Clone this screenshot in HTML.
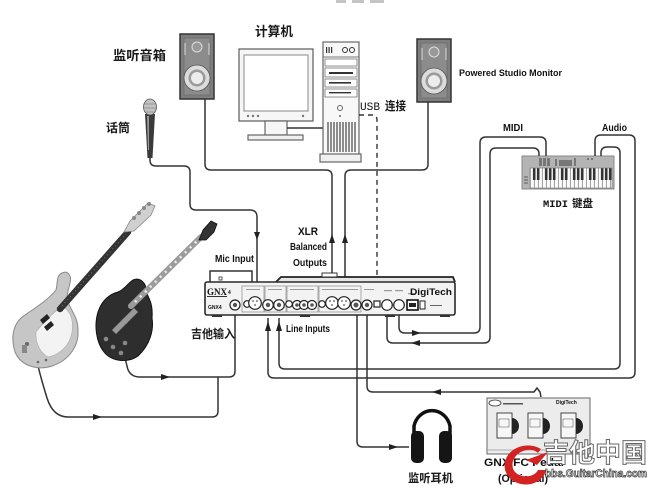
<!DOCTYPE html>
<html><head><meta charset="utf-8">
<style>
html,body{margin:0;padding:0;background:#fff;}
svg{display:block;}
.cn{font-family:"Liberation Sans","Noto Sans CJK SC","WenQuanYi Zen Hei",sans-serif;fill:#1a1a1a;font-weight:bold;}
.en{font-family:"Liberation Sans",sans-serif;font-weight:bold;fill:#111;}
.w{fill:none;stroke:#333;stroke-width:1.5;}
</style></head>
<body>
<svg width="654" height="488" viewBox="0 0 654 488" xmlns="http://www.w3.org/2000/svg">
<defs>
<pattern id="kb" x="530" y="168" width="28" height="21" patternUnits="userSpaceOnUse">
<rect width="28" height="21" fill="#fafafa"/>
<g stroke="#777" stroke-width="0.7"><line x1="0.3" y1="0" x2="0.3" y2="21"/><line x1="4.3" y1="0" x2="4.3" y2="21"/><line x1="8.3" y1="0" x2="8.3" y2="21"/><line x1="12.3" y1="0" x2="12.3" y2="21"/><line x1="16.3" y1="0" x2="16.3" y2="21"/><line x1="20.3" y1="0" x2="20.3" y2="21"/><line x1="24.3" y1="0" x2="24.3" y2="21"/></g>
<g fill="#333"><rect x="2.9" y="0" width="2.6" height="12"/><rect x="6.9" y="0" width="2.6" height="12"/><rect x="14.9" y="0" width="2.6" height="12"/><rect x="18.9" y="0" width="2.6" height="12"/><rect x="22.9" y="0" width="2.6" height="12"/></g>
</pattern>
</defs>

<!-- cut off title marks -->
<g fill="#c4c4c4"><rect x="336" y="0" width="10" height="3"/><rect x="352" y="0" width="12" height="3"/><rect x="370" y="0" width="14" height="3"/></g>

<!-- ===== Left speaker ===== -->
<rect x="180" y="34" width="34" height="65" fill="#7e7e7e" stroke="#333" stroke-width="1.5"/>
<rect x="184" y="38" width="26" height="57" fill="#8c8c8c" stroke="#666" stroke-width="0.6"/>
<line x1="185" y1="43" x2="185" y2="55" stroke="#ddd" stroke-width="1"/>
<line x1="209" y1="43" x2="209" y2="55" stroke="#ddd" stroke-width="1"/>
<circle cx="197" cy="47" r="5" fill="#999" stroke="#ddd" stroke-width="1"/>
<circle cx="197" cy="78" r="13" fill="#dcdcdc" stroke="#555" stroke-width="0.8"/>
<circle cx="197" cy="78" r="8.5" fill="#9a9a9a"/>
<circle cx="197" cy="78" r="6" fill="#ececec"/>

<!-- ===== Right speaker ===== -->
<rect x="417" y="39" width="34" height="63" fill="#7e7e7e" stroke="#333" stroke-width="1.5"/>
<rect x="421" y="43" width="26" height="55" fill="#8c8c8c" stroke="#666" stroke-width="0.6"/>
<line x1="422" y1="48" x2="422" y2="60" stroke="#ddd" stroke-width="1"/>
<line x1="446" y1="48" x2="446" y2="60" stroke="#ddd" stroke-width="1"/>
<circle cx="434" cy="52" r="5" fill="#999" stroke="#ddd" stroke-width="1"/>
<circle cx="434" cy="81" r="13" fill="#dcdcdc" stroke="#555" stroke-width="0.8"/>
<circle cx="434" cy="81" r="8.5" fill="#9a9a9a"/>
<circle cx="434" cy="81" r="6" fill="#ececec"/>

<!-- ===== Monitor ===== -->
<rect x="239" y="49" width="74" height="72" fill="#f6f6f6" stroke="#666" stroke-width="1.3"/>
<rect x="244" y="55" width="64" height="56" fill="#fff" stroke="#888" stroke-width="1"/>
<g fill="#777"><circle cx="248" cy="116" r="1.2"/><circle cx="253" cy="116" r="1.2"/><circle cx="258" cy="116" r="1.2"/><circle cx="303" cy="116" r="1.2"/></g>
<rect x="265" y="121" width="22" height="14" fill="#f6f6f6" stroke="#666" stroke-width="1.2"/>
<rect x="248" y="135" width="55" height="5" fill="#f0f0f0" stroke="#666" stroke-width="1.2"/>
<line x1="287" y1="128" x2="323" y2="128" stroke="#333" stroke-width="1.5"/>

<!-- ===== Tower ===== -->
<rect x="323" y="42" width="36" height="113" fill="#f8f8f8" stroke="#666" stroke-width="1.2"/>
<rect x="320" y="154" width="41" height="8" fill="#f0f0f0" stroke="#666" stroke-width="1.2"/>
<line x1="323" y1="57" x2="359" y2="57" stroke="#777"/>
<g fill="#333"><rect x="326" y="47" width="1.2" height="6"/><rect x="328.5" y="47" width="1.2" height="6"/><rect x="331" y="47" width="1.2" height="6"/></g>
<circle cx="345" cy="50" r="2.5" fill="none" stroke="#333"/><circle cx="352" cy="50" r="2.5" fill="none" stroke="#333"/>
<rect x="325" y="59" width="32" height="7" fill="#fff" stroke="#777" stroke-width="0.8"/>
<rect x="325" y="68" width="32" height="9" fill="#fff" stroke="#777" stroke-width="0.8"/>
<rect x="329" y="72" width="24" height="2" fill="#333"/>
<rect x="325" y="79" width="32" height="8" fill="#fff" stroke="#777" stroke-width="0.8"/>
<rect x="329" y="82" width="22" height="1.6" fill="#333"/>
<rect x="325" y="89" width="32" height="8" fill="#fff" stroke="#777" stroke-width="0.8"/>
<rect x="329" y="92" width="22" height="1.4" fill="#333"/>
<circle cx="340" cy="108" r="2.5" fill="none" stroke="#666"/>
<circle cx="340" cy="116" r="1" fill="#666"/>
<g stroke="#333" stroke-width="1.1">
<line x1="328" y1="122" x2="328" y2="152"/><line x1="331" y1="122" x2="331" y2="152"/><line x1="334" y1="122" x2="334" y2="152"/><line x1="337" y1="122" x2="337" y2="152"/><line x1="340" y1="122" x2="340" y2="152"/><line x1="343" y1="122" x2="343" y2="152"/><line x1="346" y1="122" x2="346" y2="152"/><line x1="349" y1="122" x2="349" y2="152"/><line x1="352" y1="122" x2="352" y2="152"/><line x1="355" y1="122" x2="355" y2="152"/>
</g>

<!-- ===== Microphone ===== -->
<path d="M145,114 L155,114 L152.5,158 L147.5,158 Z" fill="#3a3a3a"/>
<path d="M147,116 L149,116 L149,150 L148,150 Z" fill="#999"/>
<ellipse cx="150" cy="107" rx="6.5" ry="8" fill="#c2c2c2" stroke="#555" stroke-width="0.8"/>
<g stroke="#777" stroke-width="0.6"><line x1="144" y1="104" x2="156" y2="104"/><line x1="144" y1="108" x2="156" y2="108"/><line x1="145" y1="112" x2="155" y2="112"/></g>

<!-- ===== Keyboard ===== -->
<rect x="522" y="156" width="92" height="33" fill="#b4b4b4" stroke="#888" stroke-width="1"/>
<rect x="530" y="168" width="82" height="20" fill="url(#kb)" stroke="#777" stroke-width="0.6"/>
<g fill="#777"><rect x="539" y="158" width="3" height="8"/><rect x="543" y="158" width="3" height="8"/><rect x="547" y="158" width="3" height="8"/><rect x="555" y="159" width="2" height="7"/><rect x="559" y="160" width="13" height="6"/><rect x="574" y="158" width="2" height="8"/><rect x="587" y="158" width="2" height="2"/><rect x="591" y="158" width="2" height="2"/></g>
<g fill="#888"><rect x="524" y="176" width="4" height="2"/><rect x="524" y="179" width="4" height="2"/><rect x="524" y="182" width="4" height="2"/></g>

<!-- ===== Wires ===== -->
<path class="w" d="M150,158 L150,160 Q150,166 156,166 L184,166 Q190,166 190,172 L190,204 Q190,210 196,210 L250,210 Q257,210 257,217 L257,292"/>
<path d="M254,232 L260,232 L257,240 Z" fill="#222"/>
<path class="w" d="M205,99 L205,164 Q205,170 211,170 L326,170 Q332,170 332,176 L332,300"/>
<path class="w" d="M428,102 L428,164 Q428,170 422,170 L351,170 Q345,170 345,176 L345,300"/>
<path d="M329,243 L335,243 L332,234 Z" fill="#222"/>
<path d="M342,243 L348,243 L345,234 Z" fill="#222"/>
<path d="M359,115 L372,115 Q377,115 377,120 L377,300" fill="none" stroke="#333" stroke-width="1.4" stroke-dasharray="5,4"/>
<path class="w" d="M399,313 L399,327 Q399,333 405,333 L474,333 Q480,333 480,327 L480,143 Q480,137 486,137 L540,137 Q546,137 546,143 L546,156"/>
<path class="w" d="M387,313 L387,337 Q387,343 393,343 L484,343 Q490,343 490,337 L490,154 Q490,148 496,148 L533,148 Q539,148 539,154 L539,156"/>
<path d="M412,330 L412,336 L421,333 Z" fill="#222"/>
<path d="M420,340 L420,346 L411,343 Z" fill="#222"/>
<path class="w" d="M268,318 L268,372 Q268,378 274,378 L629,378 Q635,378 635,372 L635,141 Q635,135 629,135 L601,135 Q595,135 595,141 L595,156"/>
<path class="w" d="M279,318 L279,363 Q279,369 285,369 L614,369 Q620,369 620,363 L620,153 Q620,147 614,147 L607,147 Q601,147 601,153 L601,156"/>
<path d="M265,331 L271,331 L268,321 Z" fill="#222"/>
<path d="M276,331 L282,331 L279,321 Z" fill="#222"/>
<path class="w" d="M357,313 L357,441 Q357,447 363,447 L409,447"/>
<path d="M389,444 L389,450 L398,447 Z" fill="#222"/>
<path class="w" d="M367,313 L367,386 Q367,392 373,392 L534,392 L537,388 L540,392 L541,397"/>
<path d="M441,389 L441,395 L432,392 Z" fill="#222"/>
<path class="w" d="M235,313 L235,371 Q235,377 229,377 L140,377 Q129,377 127,366 L125,358"/>
<path d="M161,374 L161,380 L170,377 Z" fill="#222"/>
<path class="w" d="M38,366 Q42,382 47,398 Q53,417 68,417 L212,417 Q218,417 218,411 L218,377"/>
<path d="M93,414 L93,420 L102,417 Z" fill="#222"/>

<!-- ===== GNX4 unit ===== -->
<rect x="210" y="271" width="42" height="12" fill="#fff" stroke="#333" stroke-width="1.5"/>
<rect x="219" y="277" width="3" height="3" fill="none" stroke="#333" stroke-width="0.8"/>
<path d="M276,282 L281,277 L453,277 L455,282" fill="#e6e6e6" stroke="#222" stroke-width="1.8"/>
<rect x="322" y="273" width="15" height="4" fill="#fff" stroke="#333" stroke-width="1"/>
<rect x="205" y="282" width="250" height="33" rx="2" fill="#f3f3f3" stroke="#2a2a2a" stroke-width="1.6"/>
<g fill="#333"><rect x="212" y="315" width="10" height="2"/><rect x="300" y="315" width="10" height="2"/><rect x="385" y="315" width="10" height="2"/><rect x="440" y="315" width="10" height="2"/></g>
<g fill="none" stroke="#888" stroke-width="0.7">
<rect x="242" y="286" width="22" height="26"/><rect x="265" y="286" width="21" height="26"/><rect x="287" y="286" width="31" height="26"/><rect x="319" y="286" width="42" height="26"/>
</g>
<g fill="#999"><rect x="246" y="289" width="14" height="1"/><rect x="268" y="289" width="14" height="1"/><rect x="290" y="289" width="24" height="1"/><rect x="322" y="289" width="36" height="1"/><rect x="364" y="289" width="10" height="1"/><rect x="384" y="290" width="8" height="1.2"/><rect x="395" y="290" width="8" height="1.2"/><rect x="408" y="293" width="8" height="1.2"/></g>
<text x="207" y="295" font-size="9" font-weight="bold" fill="#111" textLength="20" lengthAdjust="spacingAndGlyphs" style="font-family:'Liberation Serif',serif">GNX</text>
<rect x="207" y="296" width="20" height="1" fill="#333"/>
<text x="228" y="294" class="en" font-size="5">4</text>
<text x="208" y="309" class="en" font-size="5" fill="#333">GNX4</text>
<text x="410" y="295" class="en" font-size="9" textLength="42" lengthAdjust="spacingAndGlyphs">DigiTech</text>
<g fill="#fff" stroke="#222" stroke-width="1.2">
<circle cx="235" cy="305" r="5"/>
<circle cx="247" cy="304" r="3.3"/>
<circle cx="255" cy="303" r="6.3"/>
<circle cx="268" cy="305" r="5.3"/>
<circle cx="279" cy="305" r="5.3"/>
<circle cx="289" cy="304" r="3.3"/>
<circle cx="297" cy="305" r="4.5"/>
<circle cx="304" cy="305" r="4.5"/>
<circle cx="312" cy="305" r="4.5"/>
<circle cx="322" cy="304" r="3.3"/>
<circle cx="332" cy="303" r="6.3"/>
<circle cx="344" cy="303" r="6.3"/>
<circle cx="356" cy="305" r="5"/>
<circle cx="367" cy="305" r="5"/>
<circle cx="387" cy="305" r="5.3"/>
<circle cx="399" cy="305" r="5.3"/>
</g>
<g fill="#555"><circle cx="235" cy="305" r="2.2"/><circle cx="268" cy="305" r="2.2"/><circle cx="279" cy="305" r="2.2"/><circle cx="356" cy="305" r="2.5"/><circle cx="367" cy="305" r="2.2"/><circle cx="297" cy="305" r="1.8"/><circle cx="304" cy="305" r="1.8"/><circle cx="312" cy="305" r="1.8"/>
<circle cx="253" cy="301" r="0.9"/><circle cx="257" cy="301" r="0.9"/><circle cx="255" cy="305" r="0.9"/>
<circle cx="330" cy="301" r="0.9"/><circle cx="334" cy="301" r="0.9"/><circle cx="332" cy="305" r="0.9"/>
<circle cx="342" cy="301" r="0.9"/><circle cx="346" cy="301" r="0.9"/><circle cx="344" cy="305" r="0.9"/></g>
<rect x="374" y="301" width="6" height="6" fill="#fff" stroke="#222" stroke-width="1.2"/>
<rect x="407" y="300" width="11" height="10" fill="#fff" stroke="#111" stroke-width="1.6"/>
<rect x="409" y="303" width="7" height="4" fill="#222"/>
<rect x="420" y="301" width="5" height="8" fill="#fff" stroke="#222" stroke-width="1"/>
<rect x="430" y="305" width="12" height="1" fill="#666"/>

<!-- ===== Bass guitar ===== -->
<path d="M15,352 C10,335 14,322 25,315 C35,308 48,300 56,290 C58,282 56,276 62,273 C68,270 72,276 70,283 C68,292 66,296 68,302 C72,312 78,318 78,330 C79,345 70,360 52,366 C40,370 22,368 15,352 Z" fill="#c6c6c6" stroke="#8a8a8a" stroke-width="1"/>
<path d="M36,332 C44,322 53,313 62,306 C70,310 74,320 72,332 C70,345 60,355 48,357 C40,353 35,342 36,332 Z" fill="#f3f3f3" stroke="#aaa" stroke-width="0.6"/>
<line x1="60" y1="309" x2="128" y2="232" stroke="#333" stroke-width="6.5" stroke-linecap="round"/>
<line x1="62" y1="306" x2="126" y2="234" stroke="#777" stroke-width="1" stroke-dasharray="1,3"/>
<path d="M124,232 L130,221 L148,203 L155,206 L151,215 L134,231 Z" fill="#d0d0d0" stroke="#888" stroke-width="0.8"/>
<g fill="#888"><circle cx="139" cy="213" r="2"/><circle cx="144" cy="208" r="2"/><circle cx="149" cy="204" r="2"/><circle cx="134" cy="218" r="2"/></g>
<path d="M40,320 L47,314 L50,318 L43,324 Z" fill="#222"/>
<path d="M44,327 L51,321 L54,325 L47,331 Z" fill="#222"/>
<circle cx="27" cy="344" r="2" fill="#666"/><rect x="22" y="345" width="5" height="8" fill="#888"/>
<g fill="#666"><circle cx="38" cy="362" r="1.3"/><circle cx="46" cy="360" r="1.3"/></g>

<!-- ===== Les Paul ===== -->
<path d="M133,280 C140,277 147,283 146,292 C150,300 153,305 152,318 C154,330 150,345 138,356 C128,363 112,362 104,352 C96,342 94,325 98,312 C102,300 110,294 118,292 C124,290 128,283 133,280 Z" fill="#2e2e2e" stroke="#111" stroke-width="1"/>
<line x1="131" y1="306" x2="201" y2="237" stroke="#9c9c9c" stroke-width="6" stroke-linecap="round"/>
<line x1="135" y1="302" x2="199" y2="239" stroke="#eee" stroke-width="2.5" stroke-dasharray="2,5"/>
<path d="M199,240 L203,230 L211,221 L217,224 L214,232 L206,240 Z" fill="#333" stroke="#111" stroke-width="0.8"/>
<path d="M112,330 L124,318 L128,322 L116,334 Z" fill="#999"/>
<path d="M122,320 L134,308 L138,312 L126,324 Z" fill="#999"/>
<g fill="#888"><circle cx="113" cy="347" r="2.3"/><circle cx="121" cy="353" r="2.3"/><circle cx="106" cy="339" r="2.3"/><circle cx="125" cy="343" r="2.3"/></g>

<!-- ===== Headphones ===== -->
<path d="M414,440 L414,426 A18.5,20 0 0 1 450,426 L450,440" fill="none" stroke="#111" stroke-width="3.5"/>
<rect x="411" y="431" width="13" height="32" rx="5" fill="#151515"/>
<rect x="439" y="431" width="13" height="32" rx="5" fill="#151515"/>

<!-- ===== FC Pedal ===== -->
<rect x="487" y="398" width="103" height="56" fill="#ececec" stroke="#666" stroke-width="1"/>
<ellipse cx="495" cy="403" rx="6" ry="3" fill="#fff" stroke="#333" stroke-width="0.8"/>
<rect x="503" y="403" width="20" height="1.5" fill="#555"/>
<text x="556" y="404" class="en" font-size="5">DigiTech</text>
<g>
<rect x="497" y="413" width="15" height="25" fill="#f7f7f7" stroke="#333" stroke-width="0.9"/>
<path d="M512,418 A7,8 0 0 1 512,434 Z" fill="#222"/>
<rect x="499" y="419" width="10" height="8" fill="none" stroke="#666" stroke-width="0.6"/>
<rect x="528" y="413" width="15" height="25" fill="#f7f7f7" stroke="#333" stroke-width="0.9"/>
<path d="M543,418 A7,8 0 0 1 543,434 Z" fill="#222"/>
<rect x="530" y="419" width="10" height="8" fill="none" stroke="#666" stroke-width="0.6"/>
<rect x="561" y="413" width="15" height="25" fill="#f7f7f7" stroke="#333" stroke-width="0.9"/>
<path d="M576,418 A7,8 0 0 1 576,434 Z" fill="#222"/>
<rect x="563" y="419" width="10" height="8" fill="none" stroke="#666" stroke-width="0.6"/>
</g>
<line x1="487" y1="450" x2="590" y2="450" stroke="#999" stroke-width="0.8"/>
<text x="484" y="466" class="en" font-size="11" textLength="80" lengthAdjust="spacingAndGlyphs">GNX FC Pedal</text>
<text x="498" y="482" class="en" font-size="11" textLength="50" lengthAdjust="spacingAndGlyphs">(Optional)</text>

<!-- watermark -->
<path d="M541,449 C528,441 508,447 505,462 C502,476 516,487 531,484 C539,482 545,476 546,470 L538,470 C535,477 522,479 515,472 C509,465 514,452 527,450 C532,449 536,451 538,453 Z" fill="#d32222"/>
<path d="M526,460 L548,452 L537,465 Z" fill="#d32222"/>
<text x="543" y="462" font-family="'WenQuanYi Zen Hei','Noto Sans CJK SC',sans-serif" font-size="26" font-weight="bold" fill="#fff" stroke="#666" stroke-width="1" textLength="104" lengthAdjust="spacingAndGlyphs">吉他中国</text>
<text x="545" y="477" font-family="'Liberation Sans',sans-serif" font-size="11" font-weight="bold" fill="#fff" stroke="#444" stroke-width="0.8" textLength="102" lengthAdjust="spacingAndGlyphs">bbs.GuitarChina.com</text>

<!-- ===== Labels ===== -->
<text x="113" y="60" class="cn" font-size="13" textLength="53" lengthAdjust="spacingAndGlyphs">监听音箱</text>
<text x="255" y="36" class="cn" font-size="13" textLength="38" lengthAdjust="spacingAndGlyphs">计算机</text>
<text x="106" y="132" class="cn" font-size="12" textLength="24" lengthAdjust="spacingAndGlyphs">话筒</text>
<text x="360" y="110" font-family="'Liberation Mono',monospace" font-size="11" fill="#111" textLength="20" lengthAdjust="spacingAndGlyphs">USB</text>
<text x="385" y="110" class="cn" font-size="12" textLength="21" lengthAdjust="spacingAndGlyphs">连接</text>
<text x="459" y="76" class="en" font-size="9.5" textLength="103" lengthAdjust="spacingAndGlyphs">Powered Studio Monitor</text>
<text x="503" y="131" class="en" font-size="10.5" textLength="20" lengthAdjust="spacingAndGlyphs">MIDI</text>
<text x="602" y="131" class="en" font-size="10.5" textLength="25" lengthAdjust="spacingAndGlyphs">Audio</text>
<text x="543" y="207" font-family="'Liberation Mono',monospace" font-size="10" font-weight="bold" fill="#111" textLength="25" lengthAdjust="spacingAndGlyphs">MIDI</text>
<text x="572" y="207" class="cn" font-size="11" textLength="21" lengthAdjust="spacingAndGlyphs">键盘</text>
<text x="298" y="235" class="en" font-size="11" textLength="20" lengthAdjust="spacingAndGlyphs">XLR</text>
<text x="290" y="250" class="en" font-size="10" textLength="37" lengthAdjust="spacingAndGlyphs">Balanced</text>
<text x="293" y="266" class="en" font-size="10.5" textLength="34" lengthAdjust="spacingAndGlyphs">Outputs</text>
<text x="215" y="262" class="en" font-size="10.5" textLength="39" lengthAdjust="spacingAndGlyphs">Mic Input</text>
<text x="286" y="332" class="en" font-size="10.5" textLength="44" lengthAdjust="spacingAndGlyphs">Line Inputs</text>
<text x="191" y="338" class="cn" font-size="12" textLength="44" lengthAdjust="spacingAndGlyphs">吉他输入</text>
<text x="408" y="482" class="cn" font-size="11.5" textLength="45" lengthAdjust="spacingAndGlyphs">监听耳机</text>
</svg>
</body></html>
